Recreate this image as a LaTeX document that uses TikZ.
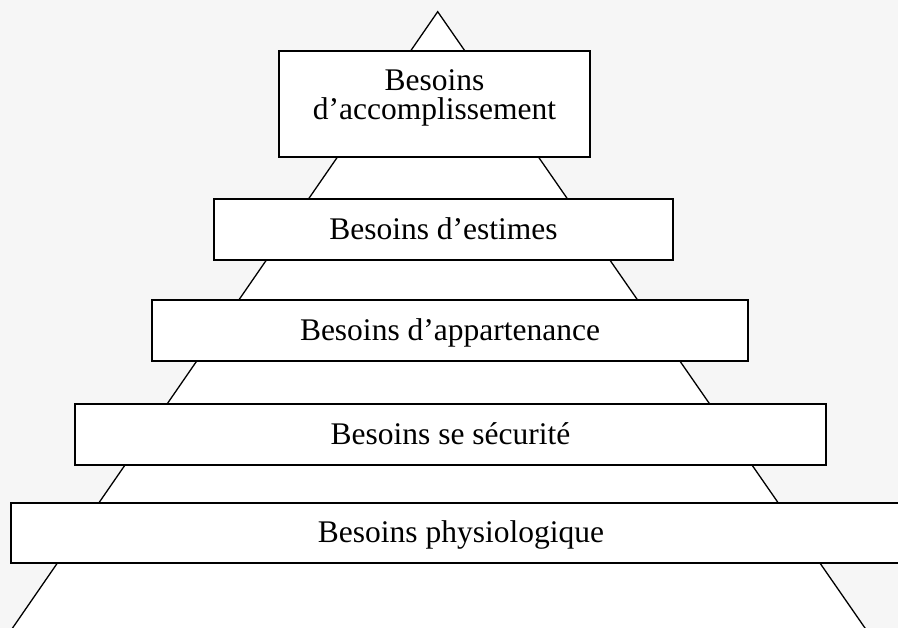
\documentclass[tikz,border=0pt]{standalone}
\usepackage{fontspec}
\setmainfont{Liberation Serif}
\definecolor{bgcol}{RGB}{246,246,246}
\begin{document}
\begin{tikzpicture}[x=1pt,y=-1pt,
  levelbox/.style={draw=black, fill=white, line width=1.8pt, rectangle, inner sep=0pt,
    font=\fontsize{31.5pt}{27.6pt}\selectfont, text height=22pt, text depth=2.4pt},
  linetext/.style={inner sep=0pt, anchor=base, font=\fontsize{31.5pt}{27.6pt}\selectfont},
  side/.style={draw=black, fill=white, line width=1.3pt}
]
\fill[bgcol] (0,0) rectangle (898,628);
\useasboundingbox (0,0) rectangle (898,628);
\clip (0,0) rectangle (898,628);
% pyramid
\coordinate (apex) at (437.7,11.7);
\coordinate (bl) at (4.3,640);
\coordinate (br) at (873.3,640);
\path[side] (bl) -- (apex) -- (br);
% levels
\node[levelbox, minimum width=311pt, minimum height=106pt] (b1) at (434.5,104) {};
\node[linetext] (b1a) at (434.5,91) {Besoins};
\node[linetext] (b1b) at (434.5,120) {d’accomplissement};
\node[levelbox, minimum width=459pt, minimum height=61pt] (b2) at (443.5,229.5) {Besoins d’estimes};
\node[levelbox, minimum width=596pt, minimum height=61pt] (b3) at (450,330.5) {Besoins d’appartenance};
\node[levelbox, minimum width=751pt, minimum height=61pt] (b4) at (450.5,434.5) {Besoins se sécurité};
\node[levelbox, minimum width=900pt, minimum height=60pt] (b5) at (461,533) {Besoins physiologique};
\end{tikzpicture}
\end{document}
